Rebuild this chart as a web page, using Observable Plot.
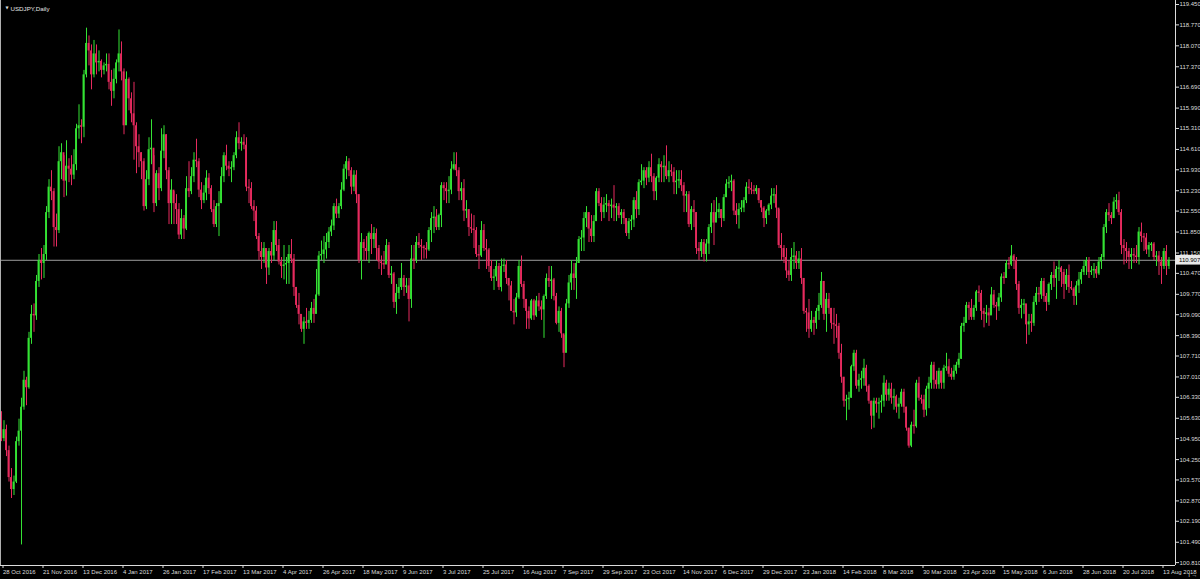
<!DOCTYPE html>
<html>
<head>
<meta charset="utf-8">
<style>
  html, body { margin: 0; padding: 0; background: #000; overflow: hidden; }
  #chart svg { display: block; }
</style>
<script src="https://cdn.jsdelivr.net/npm/d3@7"></script>
<script src="https://cdn.jsdelivr.net/npm/@observablehq/plot@0.6"></script>
</head>
<body>
<div id="chart"></div>
<script>
// ---- Data (USDJPY daily, 28 Oct 2016 – 16 Aug 2018) ----
const symbolTitle = "USDJPY,Daily";
const bidPrice = 110.907;
const firstOpen = 105.45;

const closes = [
  104.95, 105.25,
  104.55, 103.65, 103.25, 103.50, 104.85, 105.20, 106.00, 106.90, 106.65, 108.30, 109.10, 109.05, 110.20, 110.90, 110.80, 111.10, 112.50, 113.35, 113.20, 112.00, 111.90, 114.20,
  114.50, 113.55, 114.05, 113.95, 113.75, 114.10, 115.30, 115.40, 115.35, 117.10, 118.15, 117.90, 117.10, 117.80, 117.50, 117.55, 117.25, 117.40, 117.45, 116.85, 116.55, 116.95,
  117.50, 117.80, 117.20, 115.40, 116.95, 116.30, 115.80, 115.40, 114.70, 114.50, 114.20, 112.70, 113.60, 114.60, 114.65, 112.80, 113.80, 113.30, 114.55, 115.10, 113.90, 112.80,
  113.25, 112.80, 112.60, 111.75, 112.30, 111.95, 113.30, 113.20, 113.70, 114.25, 114.20, 113.25, 112.90, 113.15, 113.65, 113.30, 112.60, 112.10, 112.70, 112.80,
  113.70, 114.40, 114.05, 113.95, 114.00, 114.40, 115.00, 114.80, 114.85, 114.75, 113.35, 113.30, 112.70, 112.55, 111.70, 111.20, 111.00, 111.30, 110.65, 111.20, 111.05, 111.90, 111.40,
  110.85, 110.70, 110.75, 110.80, 111.10, 110.95, 110.00, 109.40, 109.10, 108.60, 108.85, 108.80, 108.90, 109.30, 109.10, 109.75, 111.05, 111.10, 111.25, 111.50,
  111.85, 112.05, 112.70, 112.45, 112.70, 113.25, 113.95, 114.20, 113.90, 113.35, 113.75, 113.10, 110.90, 111.50, 111.30, 111.20, 111.80, 111.60, 111.80, 111.30, 110.85, 110.80, 110.75,
  111.40, 110.40, 110.45, 109.50, 109.80, 110.00, 110.30, 110.00, 110.05, 109.60, 110.95, 110.90, 111.50, 111.40, 111.35, 111.30, 111.25, 111.90, 112.30, 112.35, 112.00, 112.40,
  113.40, 113.30, 113.20, 113.25, 113.95, 114.10, 113.90, 113.20, 113.30, 112.55, 112.60, 112.00, 111.95, 111.90, 111.10, 111.05, 111.90, 111.30, 111.25, 110.70, 110.30,
  110.35, 110.70, 110.00, 110.70, 110.75, 110.30, 110.05, 109.20, 109.15, 109.65, 110.70, 110.10, 109.60, 109.20, 108.95, 109.55, 109.05, 109.55, 109.35, 109.25, 109.70, 110.30, 110.20,
  110.25, 109.70, 108.80, 109.20, 108.45, 107.80, 109.45, 110.15, 110.45, 110.30, 110.80, 111.60, 111.65, 112.30, 112.50, 111.95, 111.70, 112.20, 113.20, 112.80, 112.50,
  112.75, 112.80, 112.70, 112.75, 112.65, 112.70, 112.40, 112.50, 112.30, 111.80, 112.20, 112.25, 112.90, 112.60, 113.50, 113.55, 113.90, 113.65, 114.00, 113.70, 113.20, 113.65,
  114.10, 114.00, 114.05, 113.70, 113.90, 113.85, 113.50, 113.55, 113.60, 113.40, 113.05, 113.10, 112.10, 112.60, 112.50, 111.30, 111.20, 111.50, 111.10, 111.45, 112.00, 112.50,
  112.15, 112.50, 112.60, 112.30, 113.00, 113.45, 113.50, 113.55, 112.55, 112.40, 112.60, 112.65, 112.90, 113.35, 113.30, 113.25, 113.20, 113.30, 112.90, 112.65,
  112.30, 112.55, 112.75, 113.05, 113.10, 112.65, 111.40, 111.30, 111.00, 110.55, 110.40, 111.00, 111.05, 110.80, 110.95, 110.30, 109.20, 109.15, 108.60, 108.90, 108.80, 109.20,
  109.40, 110.20, 109.10, 109.60, 109.30, 108.80, 108.75, 108.70, 107.80, 107.00, 106.20, 106.25, 106.30, 107.35, 107.80, 106.70, 106.90, 106.95, 107.30, 106.70,
  106.20, 105.70, 106.20, 106.10, 106.15, 106.20, 106.80, 106.40, 106.60, 106.30, 106.35, 106.00, 106.10, 106.50, 106.00, 105.30, 104.70, 105.40, 105.35, 106.80, 106.30, 106.25,
  105.90, 106.60, 106.80, 107.40, 106.90, 106.75, 107.20, 106.80, 107.30, 107.35, 107.10, 107.00, 107.20, 107.40, 107.60, 108.70, 108.80, 109.40, 109.30, 109.00, 109.30,
  109.85, 109.80, 109.20, 109.10, 109.15, 109.05, 109.75, 109.40, 109.35, 109.65, 110.35, 110.30, 110.80, 110.75, 111.05, 110.90, 110.10, 109.30, 109.40, 109.45, 108.75, 108.85, 108.80,
  109.50, 109.80, 109.75, 110.20, 109.70, 109.50, 110.10, 110.40, 110.30, 110.60, 110.65, 110.50, 110.10, 110.40, 110.00, 109.95, 109.70, 110.05, 110.25, 110.50, 110.70,
  110.90, 110.50, 110.55, 110.60, 110.45, 110.85, 111.00, 112.00, 112.50, 112.40, 112.30, 112.85, 112.90, 112.50, 111.40, 111.30, 111.20, 111.00, 111.10, 111.05, 111.00, 111.85,
  111.70, 111.65, 111.25, 111.40, 111.45, 111.00, 111.05, 110.85, 110.70, 111.20, 110.70, 110.907
];

const highs = [
  105.85, 105.55,
  105.40, 104.70, 103.95, 103.70, 105.00, 105.60, 106.30, 107.20, 107.00, 108.50, 109.40, 109.45, 110.40, 111.10, 111.30, 111.40, 112.70, 113.60, 113.90, 113.30, 112.45, 114.70,
  114.80, 114.40, 114.90, 114.30, 114.40, 114.60, 115.45, 116.10, 115.60, 117.25, 118.66, 118.40, 118.10, 118.25, 118.10, 117.90, 117.60, 117.50, 117.80, 117.80, 117.25, 117.30,
  117.60, 118.60, 118.20, 117.30, 117.20, 117.00, 116.50, 116.85, 115.50, 115.10, 114.50, 114.30, 113.90, 115.00, 115.60, 114.40, 113.90, 114.00, 115.30, 115.40, 115.10, 114.00,
  113.60, 113.20, 113.10, 112.80, 112.60, 112.40, 113.70, 114.20, 114.00, 114.50, 114.95, 114.30, 113.50, 113.40, 113.90, 113.80, 113.40, 112.90, 112.80, 113.20,
  114.00, 114.50, 114.75, 114.20, 114.20, 114.50, 115.20, 115.50, 115.00, 115.10, 115.00, 113.60, 113.50, 112.90, 112.70, 111.80, 111.50, 111.50, 111.10, 111.30, 111.50, 112.20, 112.20,
  111.60, 111.00, 111.40, 111.00, 111.40, 111.60, 111.10, 110.00, 109.80, 109.00, 109.00, 109.30, 109.20, 109.50, 109.60, 110.60, 111.20, 111.55, 111.70, 111.80,
  112.00, 112.25, 112.80, 112.95, 112.80, 113.50, 114.10, 114.37, 114.30, 114.00, 113.90, 113.90, 113.10, 111.80, 111.60, 111.70, 111.85, 112.10, 112.00, 111.95, 111.40, 111.05, 111.20,
  111.60, 111.50, 110.70, 110.50, 110.10, 110.30, 110.80, 110.40, 110.30, 110.30, 111.40, 111.40, 111.70, 111.80, 111.60, 111.40, 111.50, 112.00, 112.50, 112.70, 112.60, 112.45,
  113.50, 113.50, 113.50, 113.70, 114.20, 114.50, 114.50, 114.00, 113.50, 113.60, 112.90, 112.60, 112.45, 112.40, 112.00, 111.40, 112.20, 112.10, 111.60, 111.30, 110.90,
  110.60, 110.90, 110.80, 110.95, 110.95, 110.90, 110.30, 110.20, 109.60, 109.80, 110.90, 111.05, 110.20, 109.60, 109.35, 109.60, 109.60, 109.70, 109.80, 109.55, 109.75, 110.45, 110.70,
  110.70, 110.30, 109.80, 109.35, 109.30, 108.40, 109.60, 110.40, 110.90, 110.80, 111.00, 111.70, 111.90, 112.50, 112.70, 112.50, 112.40, 112.40, 113.30, 113.30, 113.00,
  113.00, 113.10, 112.90, 112.95, 113.40, 112.80, 112.80, 112.60, 112.60, 112.30, 112.30, 112.40, 113.00, 113.20, 113.60, 114.10, 114.00, 114.00, 114.20, 114.45, 113.80, 113.70,
  114.30, 114.20, 114.40, 114.73, 114.20, 114.10, 114.00, 113.90, 113.90, 113.90, 113.50, 113.20, 113.20, 112.70, 112.90, 112.50, 111.50, 111.60, 111.60, 111.60, 112.10, 112.80,
  112.90, 113.00, 112.80, 112.60, 113.10, 113.60, 113.70, 113.75, 113.60, 112.80, 112.80, 112.90, 113.00, 113.50, 113.60, 113.50, 113.40, 113.40, 113.30, 112.90,
  112.70, 112.60, 112.80, 113.30, 113.30, 113.40, 112.60, 111.80, 111.40, 111.30, 110.90, 111.30, 111.50, 111.20, 111.20, 111.30, 110.30, 109.30, 109.60, 109.20, 109.00, 109.30,
  109.80, 110.50, 110.20, 109.80, 109.80, 109.30, 109.30, 109.10, 108.80, 108.10, 107.00, 106.40, 106.50, 107.40, 107.90, 107.90, 107.10, 107.20, 107.60, 107.40,
  106.75, 106.20, 106.30, 106.30, 106.30, 106.40, 107.05, 106.90, 106.80, 106.80, 106.60, 106.40, 106.30, 106.60, 106.60, 106.00, 105.30, 105.50, 105.90, 106.90, 107.00, 106.40,
  106.40, 106.70, 107.00, 107.50, 107.50, 107.20, 107.30, 107.20, 107.40, 107.80, 107.60, 107.30, 107.40, 107.50, 107.80, 108.80, 109.00, 109.50, 109.50, 109.60, 109.40,
  109.90, 110.05, 109.90, 109.30, 109.40, 109.30, 110.00, 109.90, 109.50, 109.80, 110.45, 110.50, 110.90, 111.00, 111.40, 111.10, 111.00, 110.20, 109.60, 109.60, 109.40, 109.10, 109.10,
  109.70, 110.00, 110.00, 110.30, 110.30, 109.80, 110.15, 110.50, 110.85, 110.70, 110.90, 110.70, 110.60, 110.60, 110.75, 110.20, 110.00, 110.20, 110.50, 110.60, 110.90,
  111.00, 111.00, 110.70, 110.80, 110.70, 111.00, 111.10, 112.10, 112.60, 112.80, 112.50, 113.00, 113.10, 113.18, 112.60, 111.60, 111.50, 111.30, 111.30, 111.30, 111.40, 112.00,
  112.15, 111.80, 111.80, 111.50, 111.50, 111.50, 111.20, 111.20, 111.00, 111.30, 111.40, 111.00
];

const lows = [
  104.85, 104.85,
  104.35, 103.50, 102.95, 103.05, 103.45, 104.70, 101.40, 105.90, 106.05, 106.60, 108.10, 108.50, 108.90, 110.00, 110.25, 110.30, 110.90, 112.30, 112.90, 111.35, 111.35, 111.80,
  113.60, 113.00, 113.05, 113.50, 113.40, 113.60, 113.90, 114.95, 114.80, 115.00, 117.00, 117.40, 116.60, 117.00, 117.10, 117.20, 117.00, 117.10, 117.20, 116.60, 116.05, 116.30,
  116.80, 117.20, 116.90, 115.10, 115.50, 115.90, 115.50, 114.25, 113.80, 114.00, 113.60, 112.55, 112.60, 113.40, 114.10, 112.50, 112.70, 112.90, 113.20, 114.30, 113.60, 112.10,
  112.10, 112.10, 112.10, 111.60, 111.60, 111.60, 111.90, 113.00, 113.10, 113.50, 114.00, 113.00, 112.60, 112.80, 112.90, 113.10, 112.50, 112.00, 112.00, 111.70,
  112.80, 113.50, 113.90, 113.70, 113.50, 113.90, 114.30, 114.60, 114.55, 114.60, 113.20, 112.80, 112.60, 112.20, 111.60, 110.90, 110.60, 110.80, 110.10, 110.40, 110.80, 110.90, 111.20,
  110.75, 110.30, 110.25, 110.10, 110.10, 110.80, 109.70, 109.30, 108.75, 108.50, 108.10, 108.60, 108.60, 108.80, 108.80, 109.40, 109.70, 110.90, 110.80, 110.95,
  111.30, 111.70, 111.90, 112.30, 112.30, 112.60, 113.20, 113.60, 113.70, 113.10, 113.20, 112.80, 110.80, 110.25, 110.90, 110.90, 110.80, 111.10, 111.30, 110.90, 110.60, 110.40, 110.60,
  110.80, 110.30, 110.10, 109.30, 109.10, 109.60, 109.90, 109.70, 109.80, 108.85, 109.30, 110.60, 110.80, 111.30, 110.90, 110.95, 110.95, 111.20, 111.50, 111.80, 111.90, 111.90,
  112.00, 112.90, 112.80, 112.80, 113.10, 113.90, 113.70, 112.90, 112.90, 112.20, 112.30, 111.70, 111.80, 111.30, 111.00, 110.60, 111.00, 111.20, 110.60, 110.50, 110.20,
  109.90, 110.20, 109.90, 109.85, 110.50, 110.10, 109.55, 109.20, 108.75, 109.00, 109.60, 110.00, 109.30, 108.60, 108.60, 108.90, 108.90, 109.00, 109.20, 108.90, 108.30, 109.60, 110.00,
  109.60, 109.55, 108.75, 108.50, 108.30, 107.32, 108.10, 109.30, 109.90, 109.90, 109.60, 110.80, 111.20, 111.20, 112.00, 111.50, 111.50, 111.50, 112.20, 112.70, 112.20,
  112.30, 112.50, 112.20, 112.30, 112.20, 112.20, 112.30, 112.10, 112.10, 111.70, 111.60, 111.90, 112.00, 112.30, 112.40, 113.40, 113.30, 113.40, 113.50, 113.50, 112.90, 112.90,
  113.50, 113.50, 113.50, 113.60, 113.50, 113.70, 113.10, 113.10, 113.30, 113.20, 112.50, 112.50, 112.00, 111.90, 112.00, 111.10, 110.90, 111.00, 110.85, 110.85, 111.10, 111.80,
  111.40, 112.30, 112.30, 112.00, 112.20, 113.00, 113.30, 113.20, 112.40, 112.10, 111.95, 112.50, 112.50, 112.80, 113.10, 113.10, 113.10, 113.10, 112.80, 112.50,
  112.00, 112.10, 112.40, 112.60, 112.80, 112.30, 111.30, 110.90, 110.80, 110.30, 110.20, 110.20, 110.60, 110.60, 110.60, 110.10, 109.10, 108.50, 108.30, 108.50, 108.40, 108.60,
  108.90, 109.30, 108.90, 108.50, 109.10, 108.60, 108.10, 108.30, 107.60, 106.80, 106.00, 105.55, 105.90, 106.30, 107.20, 106.60, 106.50, 106.60, 106.70, 106.50,
  106.10, 105.25, 105.30, 105.80, 105.60, 105.80, 106.00, 106.20, 106.20, 106.10, 105.90, 105.80, 105.60, 106.00, 105.80, 105.20, 104.63, 104.65, 105.10, 105.30, 106.20, 106.10,
  105.65, 105.70, 105.95, 106.60, 106.60, 106.60, 106.60, 106.60, 106.60, 107.20, 107.00, 106.90, 106.90, 107.10, 107.30, 107.60, 108.50, 108.80, 108.90, 108.90, 108.90,
  109.20, 109.50, 108.90, 108.65, 108.80, 108.70, 109.10, 109.30, 108.90, 109.20, 109.50, 110.10, 110.30, 110.60, 110.70, 110.60, 109.90, 109.10, 108.95, 109.10, 108.10, 108.40, 108.50,
  108.70, 109.40, 109.50, 109.60, 109.50, 109.20, 109.40, 109.90, 110.00, 109.60, 110.20, 110.00, 109.60, 109.90, 109.80, 109.90, 109.40, 109.40, 109.80, 110.10, 110.40,
  110.40, 110.30, 110.40, 110.30, 110.30, 110.40, 110.60, 110.90, 111.80, 112.20, 112.10, 112.30, 112.60, 112.40, 111.10, 110.75, 110.80, 110.60, 110.60, 110.80, 110.80, 110.75,
  111.50, 111.20, 111.10, 111.00, 111.20, 110.90, 110.70, 110.40, 110.10, 110.60, 110.40, 110.60
];

// Bottom axis labels: one every 16 bars
const tickLabels = [
  "28 Oct 2016", "21 Nov 2016", "13 Dec 2016", "4 Jan 2017", "26 Jan 2017", "17 Feb 2017",
  "13 Mar 2017", "4 Apr 2017", "26 Apr 2017", "18 May 2017", "9 Jun 2017", "3 Jul 2017",
  "25 Jul 2017", "16 Aug 2017", "7 Sep 2017", "29 Sep 2017", "23 Oct 2017", "14 Nov 2017",
  "6 Dec 2017", "29 Dec 2017", "23 Jan 2018", "14 Feb 2018", "8 Mar 2018", "30 Mar 2018",
  "23 Apr 2018", "15 May 2018", "6 Jun 2018", "28 Jun 2018", "20 Jul 2018", "13 Aug 2018"
];
const labelEvery = 16;

// Right axis price labels
const yTicks = [
  119.450, 118.770, 118.070, 117.370, 116.690, 115.990, 115.310, 114.610, 113.930, 113.230,
  112.550, 111.850, 111.150, 110.470, 109.770, 109.090, 108.390, 107.710, 107.010, 106.330,
  105.630, 104.950, 104.250, 103.570, 102.870, 102.190, 101.490, 100.810
];

if (closes.length !== highs.length || closes.length !== lows.length) {
  throw new Error(`length mismatch: closes ${closes.length}, highs ${highs.length}, lows ${lows.length}`);
}

// ---- Chart ----
const xDomain = [-0.4, 469.6];
const yDomain = [100.713, 119.584];
const bull = "#34e234";
const bear = "#e62a5e";
const fg = "#dcdcdc";

const bars = closes.map((c, i) => {
  const o = i === 0 ? firstOpen : closes[i - 1];
  return {i, open: o, close: c, high: highs[i], low: lows[i], up: c >= o};
});
const tickIdx = tickLabels.map((_, k) => k * labelEvery);

const chart = Plot.plot({
  width: 1200,
  height: 579,
  marginLeft: 0,
  marginRight: 25,
  marginTop: 0,
  marginBottom: 14,
  style: {background: "#000", color: fg, fontFamily: "'Liberation Sans', Arial, sans-serif", fontSize: "6px"},
  x: {domain: xDomain, axis: null},
  y: {domain: yDomain, axis: null},
  marks: [
    Plot.ruleY([bidPrice], {stroke: "#9c9c9c", strokeWidth: 1}),
    Plot.ruleX(bars, {x: "i", y1: "low", y2: "high", stroke: d => d.up ? bull : bear, strokeWidth: 1}),
    Plot.rect(bars, {x1: d => d.i - 0.38, x2: d => d.i + 0.38, y1: "open", y2: "close", fill: d => d.up ? bull : bear}),
    Plot.ruleX([xDomain[0]], {stroke: "#b0b0b0", strokeWidth: 1}),
    Plot.ruleX([xDomain[1]], {stroke: fg, strokeWidth: 1}),
    Plot.ruleY([yDomain[0]], {stroke: fg, strokeWidth: 1}),
    Plot.axisY({anchor: "right", ticks: yTicks, tickFormat: d3.format(".3f"), tickSize: 3, tickPadding: 1, fontSize: 6, fill: fg, stroke: fg}),
    Plot.axisX({anchor: "bottom", ticks: tickIdx, tickFormat: i => tickLabels[Math.round(i / labelEvery)], tickSize: 3, tickPadding: 1.3, textAnchor: "start", dx: 1.5, fontSize: 6, fill: fg, stroke: fg}),
    Plot.rect([bidPrice], {x1: xDomain[1], x2: xDomain[1] + 10, y1: d => d - 0.16, y2: d => d + 0.16, fill: "#e8e8e8"}),
    Plot.text([bidPrice], {x: xDomain[1], y: d => d, text: d => d.toFixed(3), textAnchor: "start", dx: 3.5, fill: "#000", fontSize: 6}),
    Plot.text(["\u25BC"], {frameAnchor: "top-left", dx: 5, dy: 5.5, fontSize: 4, fill: fg, fontFamily: "DejaVu Sans"}),
    Plot.text([symbolTitle], {frameAnchor: "top-left", dx: 10, dy: 6, textAnchor: "start", fontSize: 6.2, fill: "#e6e6e6"})
  ]
});

document.getElementById("chart").appendChild(chart);
</script>
</body>
</html>
